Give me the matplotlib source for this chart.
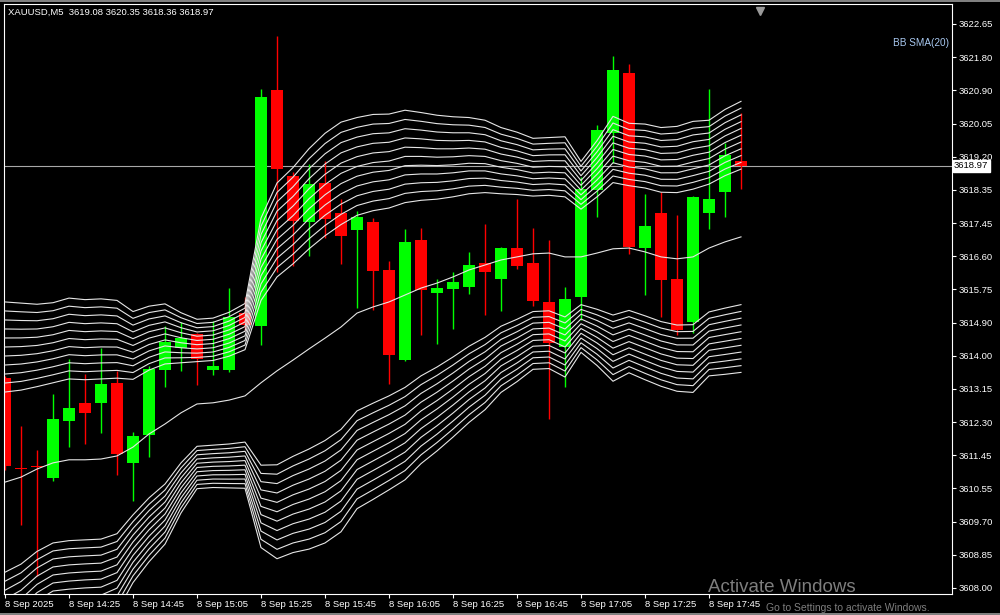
import matplotlib.pyplot as plt
from matplotlib.patches import Rectangle
import numpy as np

# XAUUSD M5 bars, 8 Sep 2025 14:05 .. 17:55
opens = [3613.45, 3611.10, 3611.14, 3610.86, 3612.34, 3612.81, 3612.81, 3613.33, 3611.25, 3611.97,
         3613.66, 3614.23, 3614.60, 3613.66, 3613.66, 3615.14, 3614.81, 3620.94, 3618.70, 3617.51,
         3618.52, 3617.74, 3617.30, 3617.51, 3616.26, 3613.92, 3617.04, 3615.66, 3615.77, 3615.82,
         3616.44, 3616.03, 3616.83, 3616.44, 3615.43, 3614.26, 3615.56, 3618.34, 3619.82, 3621.38,
         3616.83, 3617.74, 3616.03, 3614.91, 3617.74, 3618.29, 3619.08]
highs = [3613.51, 3612.21, 3611.59, 3613.04, 3613.95, 3613.56, 3614.23, 3613.64, 3612.05, 3613.77,
         3614.81, 3614.91, 3614.62, 3614.94, 3615.79, 3615.56, 3620.96, 3622.34, 3618.81, 3619.01,
         3619.09, 3618.10, 3617.79, 3617.61, 3616.49, 3617.33, 3617.35, 3616.03, 3616.21, 3616.73,
         3617.46, 3616.86, 3618.10, 3617.35, 3617.04, 3615.82, 3618.68, 3620.03, 3621.82, 3621.61,
         3618.23, 3618.29, 3617.69, 3618.18, 3620.96, 3619.56, 3620.35]
lows = [3611.07, 3609.64, 3608.31, 3610.78, 3611.66, 3611.74, 3612.03, 3610.94, 3610.26, 3611.40,
        3613.22, 3613.64, 3613.27, 3613.53, 3613.61, 3614.70, 3614.31, 3616.21, 3616.36, 3616.62,
        3617.09, 3616.42, 3615.27, 3615.22, 3613.30, 3613.90, 3614.57, 3614.34, 3614.73, 3615.64,
        3615.09, 3615.20, 3616.29, 3615.33, 3612.39, 3613.22, 3614.96, 3617.64, 3619.04, 3616.68,
        3615.61, 3615.04, 3614.57, 3614.62, 3617.33, 3617.64, 3618.36]
closes = [3611.17, 3611.09, 3611.13, 3612.39, 3612.68, 3612.55, 3613.30, 3611.48, 3611.95, 3613.69,
          3614.39, 3614.49, 3613.95, 3613.77, 3615.04, 3614.83, 3620.75, 3618.88, 3617.53, 3618.49,
          3617.59, 3617.14, 3617.64, 3616.23, 3614.05, 3616.99, 3615.74, 3615.79, 3615.95, 3616.39,
          3616.21, 3616.83, 3616.36, 3615.46, 3614.36, 3615.51, 3618.36, 3619.90, 3621.46, 3616.86,
          3617.40, 3616.00, 3614.70, 3618.16, 3618.10, 3619.25, 3618.97]

# BB SMA(20) middle line and band width
bb_mid = [3610.75, 3610.88, 3611.09, 3611.25, 3611.33, 3611.33, 3611.35, 3611.43, 3611.66, 3612.00,
          3612.26, 3612.55, 3612.78, 3612.81, 3612.88, 3612.99, 3613.33, 3613.64, 3613.92, 3614.21,
          3614.49, 3614.78, 3615.14, 3615.30, 3615.43, 3615.61, 3615.79, 3615.92, 3616.08, 3616.26,
          3616.39, 3616.52, 3616.60, 3616.68, 3616.70, 3616.60, 3616.60, 3616.70, 3616.81, 3616.83,
          3616.73, 3616.60, 3616.55, 3616.60, 3616.83, 3616.99, 3617.12]
bb_sd = [1.17, 1.13, 1.07, 1.04, 1.05, 1.04, 1.04, 1.01, 0.88, 0.83,
         0.78, 0.65, 0.55, 0.55, 0.57, 0.60, 1.07, 1.22, 1.25, 1.30,
         1.33, 1.33, 1.27, 1.25, 1.22, 1.20, 1.14, 1.09, 1.04, 0.99,
         0.94, 0.86, 0.81, 0.75, 0.75, 0.78, 0.62, 0.73, 0.86, 0.81,
         0.83, 0.84, 0.86, 0.88, 0.83, 0.86, 0.88]
band_devs = [2.0, 2.2, 2.4, 2.6, 2.8, 3.0, 3.2, 3.4, 3.6, 3.8, 4.0]

time_labels = ['8 Sep 2025', '8 Sep 14:25', '8 Sep 14:45', '8 Sep 15:05', '8 Sep 15:25',
               '8 Sep 15:45', '8 Sep 16:05', '8 Sep 16:25', '8 Sep 16:45', '8 Sep 17:05',
               '8 Sep 17:25', '8 Sep 17:45']
price_labels = ['3608.00', '3608.85', '3609.70', '3610.55', '3611.45', '3612.30', '3613.15',
                '3614.00', '3614.90', '3615.75', '3616.60', '3617.45', '3618.35', '3619.20',
                '3620.05', '3620.90', '3621.80', '3622.65']
bid = 3618.97

plt.rcParams['font.family'] = ['Liberation Sans', 'DejaVu Sans']
fs = 6.8

o = np.array(opens)
h = np.array(highs)
l = np.array(lows)
c = np.array(closes)
mid = np.array(bb_mid)
sd = np.array(bb_sd)
x = np.arange(len(o))

fig = plt.figure(figsize=(10, 6.15), dpi=100, facecolor='black')
ax = fig.add_axes([4 / 1000, 21 / 615, 948 / 1000, 590 / 615])
ax.set_facecolor('black')

# candles
up = c >= o
cols = np.where(up, '#00ff00', '#ff0000')
ax.vlines(x, l, h, colors=cols, lw=1, zorder=2)
ax.bar(x, np.maximum(np.abs(c - o), 0.03), bottom=np.minimum(o, c), width=0.69,
       color=cols, linewidth=0, zorder=2)

# bollinger bands
for d in band_devs:
    ax.plot(x, mid + d * sd, color='#e6e6e6', lw=0.8, zorder=3)
    ax.plot(x, mid - d * sd, color='#e6e6e6', lw=0.8, zorder=3)
ax.plot(x, mid, color='#e6e6e6', lw=0.8, zorder=3)

# bid line
ax.axhline(bid, color='#a8a8a8', lw=0.8, zorder=1.5)

ax.set_xlim(-0.0625, 59.1875)
ax.set_ylim(3607.844, 3623.169)

ax.yaxis.tick_right()
ax.set_yticks(np.linspace(3608.0, 3622.65, len(price_labels)))
ax.set_yticklabels(price_labels)
ax.set_xticks(np.arange(0, 4 * len(time_labels), 4))
ax.set_xticklabels(time_labels)
for lbl in ax.get_xticklabels():
    lbl.set_horizontalalignment('left')
ax.tick_params(axis='both', colors='white', labelcolor='white', labelsize=fs,
               length=3, width=0.8, direction='out')
ax.tick_params(axis='y', pad=2)
ax.tick_params(axis='x', pad=1.5)
for sp in ax.spines.values():
    sp.set_color('white')
    sp.set_linewidth(0.8)

# bid price box on the axis
ax.text(1 + 2 / 948, bid, '%.2f' % bid, transform=ax.get_yaxis_transform(),
        va='center', ha='left', color='black', fontsize=fs, zorder=5,
        bbox=dict(boxstyle='square,pad=0.15', fc='white', ec='white'))

# chart shift marker
ax.plot([47.2], [3623.0], marker='v', color='#9a9a9a', ms=6, clip_on=False, zorder=4)

fig.text(8 / 1000, 1 - 12 / 615, 'XAUUSD,M5  3619.08 3620.35 3618.36 3618.97',
         color='white', fontsize=fs, va='center', ha='left')
fig.text(949 / 1000, 1 - 43 / 615, 'BB SMA(20)', color='#a8c8f0',
         fontsize=fs + 0.4, va='center', ha='right')

# windows watermark
fig.text(708 / 1000, 1 - 587 / 615, 'Activate Windows', color='#8c8c8c',
         fontsize=13.5, va='center', ha='left', alpha=0.9)
fig.text(766 / 1000, 1 - 613 / 615, 'Go to Settings to activate Windows.', color='#8c8c8c',
         fontsize=7.5, va='bottom', ha='left', alpha=0.9)

# window borders
fig.add_artist(Rectangle((0, 1 - 2 / 615), 1, 2 / 615, transform=fig.transFigure,
                         color='#808080', lw=0))
fig.add_artist(Rectangle((0, 0), 1, 2 / 615, transform=fig.transFigure,
                         color='#808080', lw=0))

fig.savefig('out.png', dpi=100, facecolor='black')
